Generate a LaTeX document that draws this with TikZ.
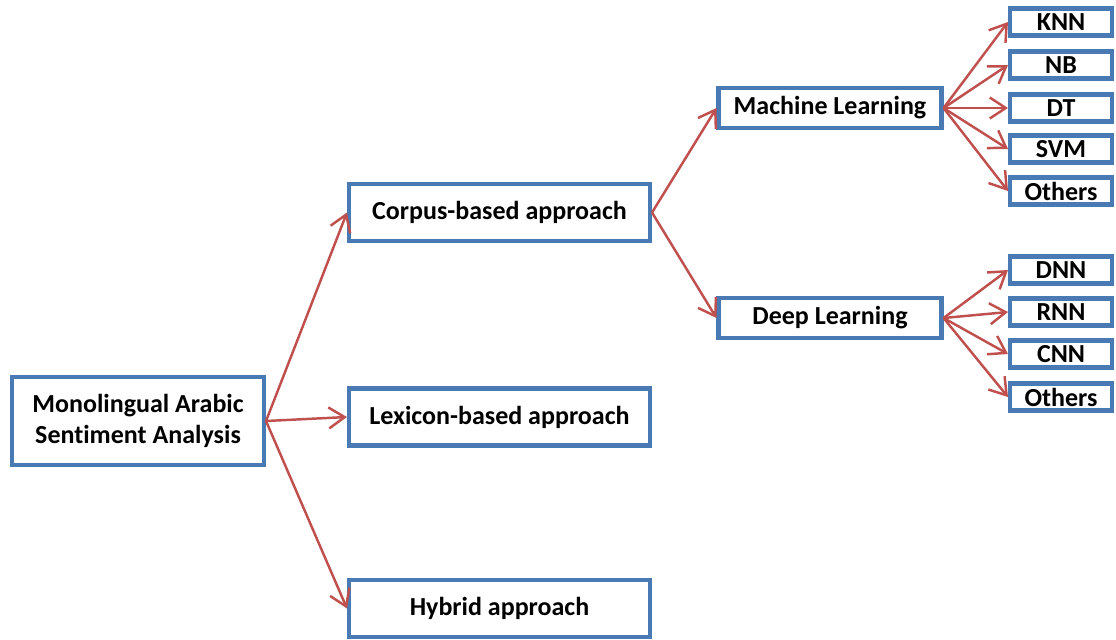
\documentclass[tikz,border=0pt]{standalone}
\usepackage{fontspec}
\setmainfont[Ligatures=NoCommon]{Carlito}
\definecolor{boxblue}{RGB}{74, 122, 180}
\definecolor{arrred}{RGB}{192, 80, 77}
\usetikzlibrary{shapes, arrows.meta, positioning, calc}

\begin{document}
\begin{tikzpicture}[
        every node/.style={font=\fontsize{14.8}{17.5}\selectfont\bfseries},
        box/.style={draw=boxblue, line width=2.3pt, fill=white, align=center, inner sep=0pt},
        root/.style={box, minimum width=5.04cm, minimum height=1.76cm},
        l1/.style={box, minimum width=6.02cm, minimum height=1.14cm},
        l2/.style={box, minimum width=4.46cm, minimum height=0.8cm},
        leaf/.style={box, minimum width=2.04cm, minimum height=0.54cm},
        arr/.style={-{Straight Barb[length=3.2mm, width=4.2mm]}, draw=arrred, line width=1.4pt},
        >=stealth
    ]
    \useasboundingbox (0,0) rectangle (22.32,-12.78);

    % Root
    \node[root] (root) at (2.76, -8.42) {Monolingual Arabic\\Sentiment Analysis};

    % Level 1
    \node[l1] (corpus) at (9.99, -4.25) {Corpus-based approach};
    \node[l1] (lexicon) at (9.99, -8.34) {Lexicon-based approach};
    \node[l1] (hybrid) at (9.99, -12.17) {Hybrid approach};

    % Level 2
    \node[l2] (ml) at (16.6, -2.16) {Machine Learning};
    \node[l2] (dl) at (16.6, -6.36) {Deep Learning};

    % Leaves - Machine Learning
    \node[leaf] (knn) at (21.22, -0.44) {KNN};
    \node[leaf] (nb) at (21.22, -1.30) {NB};
    \node[leaf] (dt) at (21.22, -2.16) {DT};
    \node[leaf] (svm) at (21.22, -2.98) {SVM};
    \node[leaf] (mlo) at (21.22, -3.82) {Others};

    % Leaves - Deep Learning
    \node[leaf] (dnn) at (21.22, -5.40) {DNN};
    \node[leaf] (rnn) at (21.22, -6.24) {RNN};
    \node[leaf] (cnn) at (21.22, -7.08) {CNN};
    \node[leaf] (dlo) at (21.22, -7.94) {Others};

    % Arrows
    \draw[arr] (root.east) -- (corpus.west);
    \draw[arr] (root.east) -- (lexicon.west);
    \draw[arr] (root.east) -- (hybrid.west);
    \draw[arr] (corpus.east) -- (ml.west);
    \draw[arr] (corpus.east) -- (dl.west);
    \foreach \leafname in {knn, nb, dt, svm, mlo}
        \draw[arr] (ml.east) -- (\leafname.west);
    \foreach \leafname in {dnn, rnn, cnn, dlo}
        \draw[arr] (dl.east) -- (\leafname.west);
\end{tikzpicture}
\end{document}
